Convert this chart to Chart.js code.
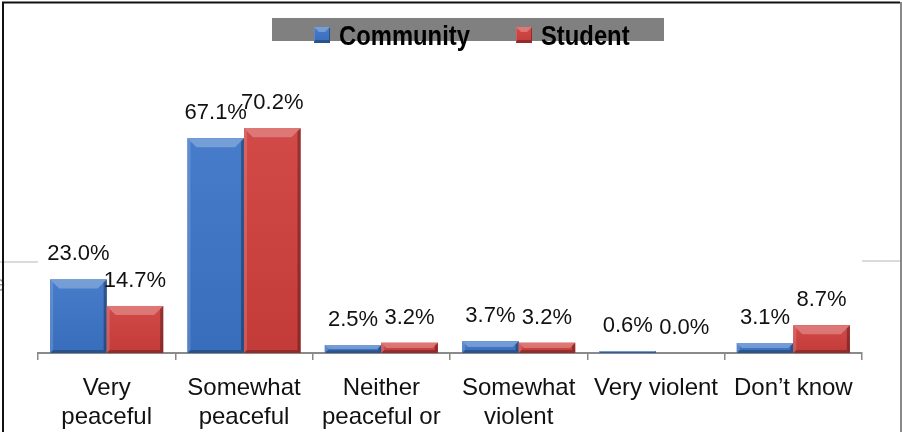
<!DOCTYPE html>
<html lang="en">
<head>
    <meta charset="UTF-8">
    <title>Community vs Student</title>
    <script src="https://cdn.jsdelivr.net/npm/chart.js"></script>
    <style>
        body { margin: 0; background: #fff; }
        canvas { display: block; }
    </style>
</head>
<body>
    <canvas id="chart" width="902" height="432"></canvas>

    <script>
        // data
        const categories = [
            ['Very', 'peaceful'],
            ['Somewhat', 'peaceful'],
            ['Neither', 'peaceful or', 'violent'],
            ['Somewhat', 'violent'],
            ['Very violent'],
            ['Don\u2019t know']
        ];
        const community = [23.0, 67.1, 2.5, 3.7, 0.6, 3.1];
        const student = [14.7, 70.2, 3.2, 3.2, 0.0, 8.7];
        const seriesNames = ['Community', 'Student'];
        const seriesColors = ['#3b74c6', '#cf3f3d'];

        // frame, legend box and the stray lines around the chart
        const decorPlugin = {
            id: 'decor',
            beforeDraw(chart) {
                const ctx = chart.ctx;
                ctx.save();
                ctx.fillStyle = '#fff';
                ctx.fillRect(0, 0, chart.width, chart.height);
                ctx.strokeStyle = '#cfcfcf';
                ctx.lineWidth = 1.5;
                ctx.beginPath();
                ctx.moveTo(0, 262); ctx.lineTo(38, 262);
                ctx.moveTo(862, 261); ctx.lineTo(902, 261);
                ctx.stroke();
                ctx.fillStyle = '#999';
                ctx.font = '22px "Liberation Sans", Arial, sans-serif';
                ctx.textBaseline = 'alphabetic';
                ctx.fillText('e', -7, 291);
                ctx.strokeStyle = '#111';
                ctx.lineWidth = 2;
                ctx.beginPath();
                ctx.moveTo(3, 432); ctx.lineTo(3, 2.5); ctx.lineTo(900, 2.5);
                ctx.stroke();
                ctx.strokeStyle = '#888';
                ctx.beginPath();
                ctx.moveTo(901, 2); ctx.lineTo(901, 432);
                ctx.stroke();
                ctx.restore();
            },
            afterDraw(chart) {
                const ctx = chart.ctx;
                ctx.save();
                ctx.fillStyle = '#808080';
                ctx.fillRect(272, 18, 392, 23);
                const marks = [314, 516];
                chart.data.datasets.forEach((ds, i) => {
                    const x = marks[i];
                    bevelBox(ctx, x, 27, x + 16, 43, ds.backgroundColor, 5, 1);
                    ctx.save();
                    ctx.translate(x + 25, 45);
                    ctx.scale(0.85, 1);
                    ctx.fillStyle = '#000';
                    ctx.font = 'bold 28px "Liberation Sans", Arial, sans-serif';
                    ctx.textBaseline = 'alphabetic';
                    ctx.textAlign = 'left';
                    ctx.fillText(ds.label, 0, 0);
                    ctx.restore();
                });
                ctx.restore();
            }
        };

        function bevelBox(ctx, L, T, R, B, color, top, side) {
            const h = B - T;
            const b = Math.min(top, h / 2, (R - L) / 2);
            const s = Math.min(side, h / 2);
            const bb = Math.min(3, h / 3);
            ctx.fillStyle = color;
            ctx.fillRect(L, T, R - L, h);
            const g = ctx.createLinearGradient(0, T, 0, B);
            g.addColorStop(0, 'rgba(255,255,255,0.06)');
            g.addColorStop(1, 'rgba(0,0,0,0.06)');
            ctx.fillStyle = g;
            ctx.fillRect(L, T, R - L, h);
            const face = (pts, fill) => {
                ctx.beginPath();
                ctx.moveTo(pts[0][0], pts[0][1]);
                for (let k = 1; k < pts.length; k++) ctx.lineTo(pts[k][0], pts[k][1]);
                ctx.closePath();
                ctx.fillStyle = fill;
                ctx.fill();
            };
            face([[L, T], [R, T], [R - b, T + b], [L + b, T + b]], 'rgba(255,255,255,0.26)');
            face([[L, T], [L + s, T + s], [L + s, B - bb], [L, B]], 'rgba(255,255,255,0.15)');
            face([[R, T], [R, B], [R - s, B - bb], [R - s, T + s]], 'rgba(0,0,0,0.3)');
            face([[L, B], [R, B], [R - s, B - bb], [L + s, B - bb]], 'rgba(0,0,0,0.25)');
        }

        // bevelled bars and value labels
        const barPlugin = {
            id: 'bars',
            afterDatasetsDraw(chart) {
                const ctx = chart.ctx;
                ctx.save();
                chart.data.datasets.forEach((ds, i) => {
                    chart.getDatasetMeta(i).data.forEach((bar, j) => {
                        const L = bar.x - bar.width / 2;
                        const R = bar.x + bar.width / 2;
                        if (bar.base - bar.y > 0.5) {
                            bevelBox(ctx, L, bar.y, R, bar.base, ds.backgroundColor, 9, 3);
                        }
                        ctx.fillStyle = '#111';
                        ctx.font = '22px "Liberation Sans", Arial, sans-serif';
                        ctx.textAlign = 'center';
                        ctx.textBaseline = 'alphabetic';
                        ctx.fillText(ds.data[j].toFixed(1) + '%', bar.x, bar.y - 19);
                    });
                });
                ctx.restore();
            }
        };

        new Chart(document.getElementById('chart'), {
            type: 'bar',
            data: {
                labels: categories,
                datasets: [
                    { label: seriesNames[0], data: community, backgroundColor: seriesColors[0] },
                    { label: seriesNames[1], data: student, backgroundColor: seriesColors[1] }
                ]
            },
            options: {
                responsive: false,
                animation: false,
                devicePixelRatio: 1,
                layout: { padding: { left: 38, right: 40, top: 97, bottom: 0 } },
                datasets: {
                    bar: { barPercentage: 1, categoryPercentage: 0.823, borderWidth: 0 }
                },
                plugins: {
                    legend: { display: false },
                    tooltip: { enabled: false }
                },
                scales: {
                    x: {
                        grid: { display: true, drawOnChartArea: false, tickLength: 7, color: '#888', lineWidth: 1.5 },
                        border: { color: '#8a8a8a', width: 2 },
                        ticks: {
                            color: '#111',
                            padding: 14,
                            maxRotation: 0,
                            autoSkip: false,
                            font: { family: '"Liberation Sans", Arial, sans-serif', size: 24, lineHeight: 1.2 }
                        },
                        afterFit(scale) { scale.height = 79; }
                    },
                    y: { display: false, min: 0, max: 80 }
                }
            },
            plugins: [decorPlugin, barPlugin]
        });
    </script>
</body>
</html>
